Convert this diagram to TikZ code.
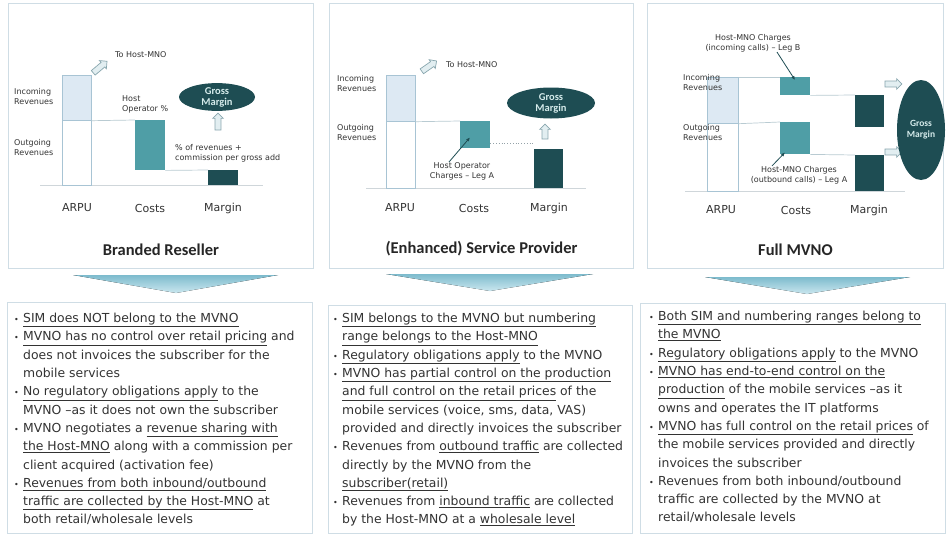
\documentclass[tikz,border=0pt]{standalone}
\usepackage{fontspec}
\setmainfont{DejaVu Sans}
\newfontfamily\headfont{Carlito}
\usepackage{tikz}
\usetikzlibrary{arrows.meta,positioning,shapes.geometric,shapes.arrows}
\definecolor{panelline}{HTML}{CFDDE5}
\definecolor{arpuline}{HTML}{A8C4D4}
\definecolor{arpulight}{HTML}{DDE9F3}
\definecolor{costteal}{HTML}{4F9EA6}
\definecolor{margindark}{HTML}{1E4D53}
\definecolor{guideline}{HTML}{B9CBD2}
\definecolor{axisgray}{HTML}{CFD6DA}
\definecolor{arrowline}{HTML}{88A6AE}
\definecolor{arrowfill}{HTML}{E2EEF1}
\definecolor{chevtop}{HTML}{7DBBCD}
\definecolor{chevbot}{HTML}{CBE7EF}
\definecolor{inktext}{HTML}{333333}
\definecolor{grosstext}{HTML}{D5EBEB}
\newcommand{\listbul}{\makebox[9pt][l]{\fontsize{8}{8}\selectfont\textbullet}}
\newcommand{\listind}{\hspace*{9pt}}
\tikzset{
  panelbox/.style={rectangle,draw=panelline,line width=0.9pt,fill=white,inner sep=0pt,anchor=north west},
  incbar/.style={rectangle,draw=arpuline,fill=arpulight,line width=0.7pt,inner sep=0pt,anchor=north west},
  outbar/.style={rectangle,draw=arpuline,fill=white,line width=0.7pt,inner sep=0pt,anchor=north west},
  costbar/.style={rectangle,fill=costteal,inner sep=0pt,anchor=north west},
  marginbar/.style={rectangle,fill=margindark,inner sep=0pt,anchor=north west},
  gross/.style={ellipse,fill=margindark,text=grosstext,align=center,inner sep=0pt,font=\headfont\bfseries\fontsize{10.5}{11}\selectfont},
  guide/.style={draw=guideline,line width=0.7pt},
  dotguide/.style={draw=guideline!80!black,line width=0.8pt,dotted},
  axisline/.style={draw=axisgray,line width=0.8pt},
  hollow/.style={single arrow,draw=arrowline,fill=arrowfill,line width=0.7pt,minimum height=18pt,inner sep=2.6pt,single arrow head extend=2.4pt},
  pointer/.style={-{Latex[length=4pt,width=3.5pt]},draw=margindark,line width=0.8pt},
  smalltext/.style={text=inktext,align=left,inner sep=0pt,font=\fontsize{8}{10}\selectfont},
  axislabel/.style={text=inktext,inner sep=0pt,font=\fontsize{11}{13}\selectfont},
  titletext/.style={text=black!85,inner sep=0pt,font=\headfont\bfseries\fontsize{16.5}{18}\selectfont},
  listtext/.style={text=inktext,align=left,inner sep=0pt,anchor=north west,font=\fontsize{12.4}{18.3}\selectfont},
  chevron/.style={top color=chevtop,bottom color=chevbot,draw=none}
}
\begin{document}
\begin{tikzpicture}[x=1pt,y=-1pt]
\useasboundingbox[fill=white] (0,0) rectangle (947,535);

% top panels
\node[panelbox,minimum width=305pt,minimum height=265pt] (panel1) at (8,3) {};
\node[panelbox,minimum width=304pt,minimum height=265pt] (panel2) at (329,3) {};
\node[panelbox,minimum width=296pt,minimum height=265pt] (panel3) at (647,3) {};

% Branded Reseller
\draw[axisline] (40,185) -- (263,185);
\node[incbar,minimum width=29pt,minimum height=45pt] (inc1) at (62,75) {};
\node[outbar,minimum width=29pt,minimum height=65pt] (out1) at (62,120) {};
\node[costbar,minimum width=30pt,minimum height=50pt] (cost1) at (135,120) {};
\node[marginbar,minimum width=30pt,minimum height=15pt] (mar1) at (208,170) {};
\draw[guide] (inc1.south east) -- (cost1.north west);
\draw[guide] (cost1.south east) -- (mar1.north west);
\node[gross,minimum width=76pt,minimum height=27pt] (gm1) at (217,97) {Gross\\Margin};
\node[hollow,rotate=90,minimum height=17pt] (up1) at (218,123) {};
\node[hollow,rotate=40] (host1) at (99,68) {};
\node[smalltext,anchor=west] (tohost1) at (115,55) {To Host-MNO};
\node[smalltext,anchor=west] (inclab1) at (14,97) {Incoming\\Revenues};
\node[smalltext,anchor=west] (outlab1) at (14,148) {Outgoing\\Revenues};
\node[smalltext,anchor=west] (hop1) at (122,104) {Host\\Operator \%};
\node[smalltext,anchor=west] (share1) at (175,153) {\% of revenues +\\commission per gross add};
\node[axislabel] (arpu1) at (77,208) {ARPU};
\node[axislabel] (costs1) at (150,208) {Costs};
\node[axislabel] (margin1) at (223,208) {Margin};
\node[titletext,above=13pt of panel1.south] (title1) {Branded Reseller};

% (Enhanced) Service Provider
\draw[axisline] (366,188) -- (586,188);
\node[incbar,minimum width=29pt,minimum height=46pt] (inc2) at (386,75) {};
\node[outbar,minimum width=29pt,minimum height=67pt] (out2) at (386,121) {};
\node[costbar,minimum width=30pt,minimum height=27pt] (cost2) at (460,121) {};
\node[marginbar,minimum width=29pt,minimum height=39pt] (mar2) at (534,149) {};
\draw[guide] (inc2.south east) -- (cost2.north west);
\draw[dotguide] ([yshift=5pt]cost2.south east) -- ([yshift=5pt]cost2.south east -| mar2.west);
\node[gross,minimum width=88pt,minimum height=31pt] (gm2) at (551,103) {Gross\\Margin};
\node[hollow,rotate=90,minimum height=15pt] (up2) at (545,133) {};
\node[hollow,rotate=35] (host2) at (428,67) {};
\node[smalltext,anchor=west] (tohost2) at (446,65) {To Host-MNO};
\node[smalltext,anchor=west] (inclab2) at (337,84) {Incoming\\Revenues};
\node[smalltext,anchor=west] (outlab2) at (337,133) {Outgoing\\Revenues};
\node[smalltext,align=center] (hoc2) at (462,171) {Host Operator\\Charges -- Leg A};
\draw[pointer] ([xshift=-13pt]hoc2.north) -- ([xshift=10pt,yshift=11pt]cost2.south west);
\node[axislabel] (arpu2) at (400,208) {ARPU};
\node[axislabel] (costs2) at (474,208) {Costs};
\node[axislabel] (margin2) at (549,208) {Margin};
\node[titletext,above=13pt of panel2.south] (title2) {(Enhanced) Service Provider};

% Full MVNO
\draw[axisline] (685,191) -- (905,191);
\node[incbar,minimum width=31pt,minimum height=46pt] (inc3) at (707,77) {};
\node[outbar,minimum width=31pt,minimum height=68pt] (out3) at (707,123) {};
\node[costbar,minimum width=30pt,minimum height=18pt] (cost3a) at (780,77) {};
\node[costbar,minimum width=30pt,minimum height=32pt] (cost3b) at (780,122) {};
\node[marginbar,minimum width=29pt,minimum height=32pt] (mar3a) at (855,95) {};
\node[marginbar,minimum width=29pt,minimum height=36pt] (mar3b) at (855,155) {};
\draw[guide] (inc3.north east) -- (cost3a.north west);
\draw[guide] (inc3.south east) -- (cost3b.north west);
\draw[guide] (cost3a.south east) -- (mar3a.north west);
\draw[guide] (cost3b.south east) -- (mar3b.north west);
\node[hollow,minimum height=17pt] (in3) at (892,84) {};
\node[hollow,minimum height=17pt] (out3arr) at (892,152) {};
\node[gross,minimum width=48pt,minimum height=100pt,font=\headfont\bfseries\fontsize{9.5}{11}\selectfont] (gm3) at (921,130) {Gross\\Margin};
\node[smalltext,anchor=west] (inclab3) at (683,83) {Incoming\\Revenues};
\node[smalltext,anchor=west] (outlab3) at (683,133) {Outgoing\\Revenues};
\node[smalltext,align=center] (hmb3) at (753,43) {Host-MNO Charges\\(incoming calls) -- Leg B};
\draw[pointer] ([xshift=24pt]hmb3.south) -- ([xshift=15pt,yshift=-3pt]cost3a.north west);
\node[smalltext,align=center] (hma3) at (799,175) {Host-MNO Charges\\(outbound calls) -- Leg A};
\draw[pointer] ([xshift=-27pt]hma3.north) -- ([xshift=5pt,yshift=2pt]cost3b.south west);
\node[axislabel] (arpu3) at (721,210) {ARPU};
\node[axislabel] (costs3) at (796,210) {Costs};
\node[axislabel] (margin3) at (869,210) {Margin};
\node[titletext,above=13pt of panel3.south] (title3) {Full MVNO};

% chevrons
\fill[chevron] (73,275) -- (278,275) -- (176,293) -- cycle;
\fill[chevron] (386,274) -- (593,274) -- (490,291) -- cycle;
\fill[chevron] (705,277) -- (910,277) -- (807,294) -- cycle;

% bottom boxes
\node[panelbox,minimum width=305pt,minimum height=231pt] (rules1) at (7,302) {};
\node[panelbox,minimum width=304pt,minimum height=228pt] (rules2) at (328,305) {};
\node[panelbox,minimum width=305pt,minimum height=230pt] (rules3) at (640,303) {};

\node[listtext] (list1) at ([xshift=7pt,yshift=-11pt]rules1.north west) {%
\listbul\underline{SIM does NOT belong to the MVNO}\\
\listbul\underline{MVNO has no control over retail pricing} and\\
\listind does not invoices the subscriber for the\\
\listind mobile services\\
\listbul\underline{No regulatory obligations apply} to the\\
\listind MVNO –as it does not own the subscriber\\
\listbul MVNO negotiates a \underline{revenue sharing with}\\
\listind\underline{the Host-MNO} along with a commission per\\
\listind client acquired (activation fee)\\
\listbul\underline{Revenues from both inbound/outbound}\\
\listind\underline{traffic are collected by the Host-MNO} at\\
\listind both retail/wholesale levels};

\node[listtext] (list2) at ([xshift=5pt,yshift=-8pt]rules2.north west) {%
\listbul\underline{SIM belongs to the MVNO but numbering}\\
\listind\underline{range belongs to the Host-MNO}\\
\listbul\underline{Regulatory obligations apply} to the MVNO\\
\listbul\underline{MVNO has partial control on the production}\\
\listind\underline{and full control on the retail prices} of the\\
\listind mobile services (voice, sms, data, VAS)\\
\listind provided and directly invoices the subscriber\\
\listbul Revenues from \underline{outbound traffic} are collected\\
\listind directly by the MVNO from the\\
\listind\underline{subscriber(retail)}\\
\listbul Revenues from \underline{inbound traffic} are collected\\
\listind by the Host-MNO at a \underline{wholesale level}};

\node[listtext] (list3) at ([xshift=9pt,yshift=-8pt]rules3.north west) {%
\listbul\underline{Both SIM and numbering ranges belong to}\\
\listind\underline{the MVNO}\\
\listbul\underline{Regulatory obligations apply} to the MVNO\\
\listbul\underline{MVNO has end-to-end control on the}\\
\listind\underline{production} of the mobile services –as it\\
\listind owns and operates the IT platforms\\
\listbul\underline{MVNO has full control on the retail prices} of\\
\listind the mobile services provided and directly\\
\listind invoices the subscriber\\
\listbul Revenues from both inbound/outbound\\
\listind traffic are collected by the MVNO at\\
\listind retail/wholesale levels};
\end{tikzpicture}
\end{document}
